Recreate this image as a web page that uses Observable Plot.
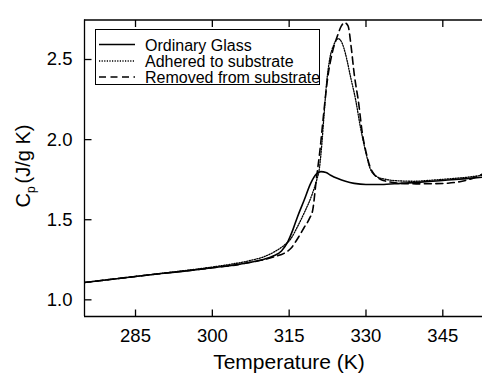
<!DOCTYPE html>
<html>
<head>
<meta charset="utf-8">
<script src="https://cdn.jsdelivr.net/npm/d3@7"></script>
<script src="https://cdn.jsdelivr.net/npm/@observablehq/plot@0.6"></script>
<style>
  html, body { margin: 0; padding: 0; background: #fff; }
  #chart { width: 482px; height: 379px; overflow: hidden; }
</style>
</head>
<body>
<div id="chart"></div>
<script>
// ---- data ----
const seriesNames = ["Ordinary Glass", "Adhered to substrate", "Removed from substrate"];

const ordinaryT  = [275, 280, 285, 290, 295, 300, 305, 308, 310, 312, 313.5, 314.7, 315.7, 316.6, 317.9, 319.2, 320.3, 321.2, 322.2, 323.1, 324.5, 326, 327.7, 330, 333, 336.8, 340, 343, 346, 349, 352.7];
const ordinaryCp = [1.108, 1.127, 1.146, 1.164, 1.181, 1.2, 1.221, 1.238, 1.252, 1.275, 1.305, 1.36, 1.435, 1.516, 1.62, 1.727, 1.785, 1.8, 1.795, 1.778, 1.757, 1.74, 1.727, 1.72, 1.72, 1.727, 1.733, 1.74, 1.748, 1.755, 1.765];

const adheredT  = [275, 280, 285, 290, 295, 300, 305, 308, 310, 312.4, 314, 315.3, 316.6, 317.9, 319.5, 320.4, 320.9, 321.4, 321.8, 322.3, 322.9, 323.7, 324.6, 325.3, 326, 327, 328, 328.9, 329.9, 330.8, 331.8, 333.4, 336.7, 339.4, 342, 345, 348, 350.5, 352.7];
const adheredCp = [1.108, 1.127, 1.146, 1.165, 1.184, 1.205, 1.23, 1.25, 1.268, 1.305, 1.34, 1.38, 1.455, 1.54, 1.66, 1.75, 1.82, 1.98, 2.15, 2.35, 2.5, 2.59, 2.63, 2.605, 2.535, 2.39, 2.245, 2.08, 1.93, 1.82, 1.776, 1.755, 1.742, 1.74, 1.745, 1.752, 1.76, 1.768, 1.778];

const removedT  = [275, 280, 285, 290, 295, 300, 305, 308, 310, 312.4, 314, 315.3, 316.6, 317.9, 319, 319.6, 320.3, 321, 321.7, 322.5, 323.4, 324.4, 325.2, 325.8, 326.5, 327.1, 327.7, 328.6, 329.2, 330.1, 330.8, 331.8, 333, 334.5, 336.5, 340, 343, 346, 349, 351, 352.7];
const removedCp = [1.108, 1.127, 1.146, 1.164, 1.181, 1.2, 1.22, 1.237, 1.25, 1.272, 1.29, 1.32, 1.38, 1.45, 1.51, 1.56, 1.75, 1.93, 2.15, 2.38, 2.54, 2.645, 2.71, 2.73, 2.71, 2.58, 2.41, 2.22, 2.06, 1.91, 1.83, 1.776, 1.75, 1.737, 1.728, 1.724, 1.725, 1.728, 1.742, 1.76, 1.785];

const xTicks = [285, 300, 315, 330, 345];
const yTicks = [1.0, 1.5, 2.0, 2.5];
const xTitle = "Temperature (K)";
const yTitleMain = "C";
const yTitleSub = "p";
const yTitleUnit = "(J/g K)";

// ---- layout ----
const W = 482, H = 379;
const mTop = 19.5, mBottom = 63, mLeft = 84, mRight = 0;
const xDomain = [275.04, 352.75];
const yDomain = [0.896, 2.7466];
const tickLen = 7;
const pxPerX = (W - mLeft - mRight) / (xDomain[1] - xDomain[0]);
const pxPerY = (H - mTop - mBottom) / (yDomain[1] - yDomain[0]);

const table = [
  ...ordinaryT.map((t, i) => ({series: seriesNames[0], T: t, Cp: ordinaryCp[i]})),
  ...adheredT.map((t, i) => ({series: seriesNames[1], T: t, Cp: adheredCp[i]})),
  ...removedT.map((t, i) => ({series: seriesNames[2], T: t, Cp: removedCp[i]}))
];
const styles = {
  [seriesNames[0]]: {strokeWidth: 1.6, dash: null},
  [seriesNames[1]]: {strokeWidth: 1.3, dash: "1.2,1.4"},
  [seriesNames[2]]: {strokeWidth: 1.6, dash: "7,4.5"}
};

const font = "'Liberation Sans', Arial, Helvetica, sans-serif";

const svg = Plot.plot({
  width: W, height: H,
  marginTop: mTop, marginBottom: mBottom, marginLeft: mLeft, marginRight: mRight,
  style: {fontFamily: font, fontSize: "18.5px", background: "#fff", color: "#000", overflow: "hidden"},
  x: {domain: xDomain, ticks: xTicks, tickSize: 0, tickPadding: 12, label: null, tickFormat: d3.format("d")},
  y: {domain: yDomain, ticks: yTicks, tickSize: 0, tickPadding: 12, label: null, tickFormat: d3.format(".1f")},
  marks: [
    // frame (left, bottom, top)
    Plot.ruleX([xDomain[0]], {stroke: "#000", strokeWidth: 1.3}),
    Plot.ruleY([yDomain[0], yDomain[1]], {stroke: "#000", strokeWidth: 1.3}),
    // inward ticks (bottom, top, left)
    Plot.link(xTicks, {x1: d => d, x2: d => d, y1: () => yDomain[0], y2: () => yDomain[0] + tickLen / pxPerY, stroke: "#000", strokeWidth: 1.3}),
    Plot.link(xTicks, {x1: d => d, x2: d => d, y1: () => yDomain[1], y2: () => yDomain[1] - tickLen / pxPerY, stroke: "#000", strokeWidth: 1.3}),
    Plot.link(yTicks, {y1: d => d, y2: d => d, x1: () => xDomain[0], x2: () => xDomain[0] + tickLen / pxPerX, stroke: "#000", strokeWidth: 1.3}),
    // curves
    ...seriesNames.map(name => Plot.line(table.filter(d => d.series === name), {
      x: "T", y: "Cp", stroke: "#000", strokeWidth: styles[name].strokeWidth,
      strokeDasharray: styles[name].dash, curve: "monotone-x", clip: true
    }))
  ]
});

const root = d3.select(svg);

// x title
root.append("text")
  .attr("x", 289).attr("y", 369)
  .attr("text-anchor", "middle")
  .style("font-family", font).style("font-size", "21px").attr("fill", "#000")
  .text(xTitle);

// y title with subscript
const yt = root.append("text")
  .attr("transform", "translate(30,166) rotate(-90)")
  .attr("text-anchor", "middle")
  .style("font-family", font).style("font-size", "20px").attr("fill", "#000");
yt.append("tspan").text(yTitleMain);
yt.append("tspan").attr("dy", 5).style("font-size", "12px").text(yTitleSub);
yt.append("tspan").attr("dy", -5).attr("dx", 3).text(yTitleUnit);

// legend
const lg = root.append("g");
lg.append("rect").attr("x", 95.5).attr("y", 29.5).attr("width", 224).attr("height", 55)
  .attr("fill", "#fff").attr("stroke", "#000").attr("stroke-width", 1);
const rowsY = [44.5, 61, 77];
seriesNames.forEach((name, i) => {
  lg.append("line").attr("x1", 99).attr("x2", 135).attr("y1", rowsY[i]).attr("y2", rowsY[i])
    .attr("stroke", "#000").attr("stroke-width", styles[name].strokeWidth)
    .attr("stroke-dasharray", styles[name].dash);
  lg.append("text").attr("x", 145).attr("y", rowsY[i] + 6)
    .attr("text-anchor", "start")
    .style("font-family", font).style("font-size", "16px").attr("fill", "#000")
    .text(name);
});

document.getElementById("chart").appendChild(svg);
</script>
</body>
</html>
